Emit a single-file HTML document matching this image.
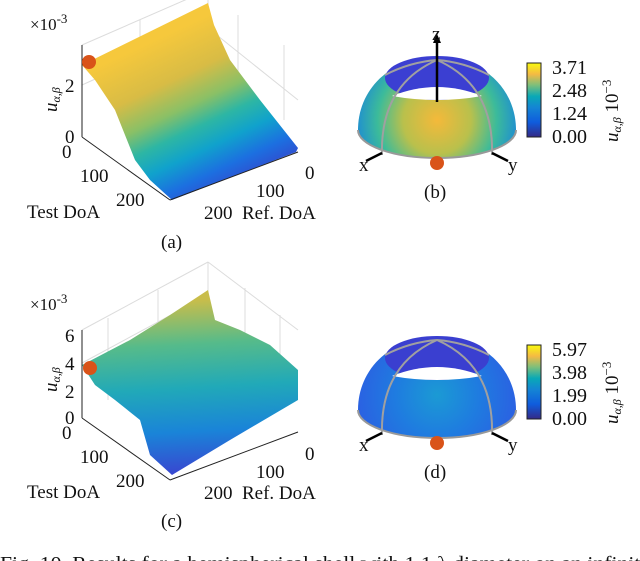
<!DOCTYPE html>
<html><head><meta charset="utf-8"><style>
html,body{margin:0;padding:0;background:#fff;}
svg{display:block;font-family:"Liberation Serif",serif;}
</style></head><body>
<svg width="640" height="561" viewBox="0 0 640 561">
<defs>
<linearGradient id="gA" gradientUnits="userSpaceOnUse" x1="165" y1="35" x2="240" y2="195">
<stop offset="0" stop-color="#f6c83c"/><stop offset="0.25" stop-color="#d8bc45"/><stop offset="0.42" stop-color="#8ac066"/><stop offset="0.55" stop-color="#2db6a4"/><stop offset="0.68" stop-color="#10a2cc"/><stop offset="0.82" stop-color="#1c6fe0"/><stop offset="1" stop-color="#3b3ac6"/></linearGradient>
<linearGradient id="gC" gradientUnits="userSpaceOnUse" x1="190" y1="300" x2="200" y2="475">
<stop offset="0" stop-color="#c9bd4a"/><stop offset="0.25" stop-color="#56bb8a"/><stop offset="0.5" stop-color="#21a9b8"/><stop offset="0.75" stop-color="#1a84d8"/><stop offset="1" stop-color="#3a44d0"/></linearGradient>
<linearGradient id="cb1" x1="0" y1="1" x2="0" y2="0">
<stop offset="0" stop-color="#352a87"/><stop offset="0.2" stop-color="#0f5cdd"/><stop offset="0.4" stop-color="#1485d4"/><stop offset="0.55" stop-color="#09a9b6"/><stop offset="0.7" stop-color="#7cbf7b"/><stop offset="0.85" stop-color="#f5ba43"/><stop offset="1" stop-color="#f9fb0e"/></linearGradient>
<radialGradient id="dB" gradientUnits="userSpaceOnUse" cx="437" cy="120" r="85">
<stop offset="0" stop-color="#f4b93a"/><stop offset="0.4" stop-color="#b9c04c"/><stop offset="0.7" stop-color="#3cbb9a"/><stop offset="1" stop-color="#1a86db"/></radialGradient>
<radialGradient id="dD" gradientUnits="userSpaceOnUse" cx="437" cy="395" r="85">
<stop offset="0" stop-color="#1b9ad4"/><stop offset="0.5" stop-color="#1f7be0"/><stop offset="1" stop-color="#2c5ee2"/></radialGradient>
</defs>

<!-- Plot (a) -->
<g>
<g stroke="#dcdcdc" stroke-width="1" fill="none">
<line x1="82" y1="45" x2="208" y2="-10"/><line x1="82" y1="85" x2="208" y2="28"/>
<line x1="140" y1="20" x2="140" y2="110"/><line x1="208" y1="-10" x2="208" y2="60"/>
<line x1="208" y1="28" x2="298" y2="100"/><line x1="238" y1="15" x2="238" y2="95"/><line x1="284" y1="45" x2="284" y2="120"/>
</g>
<polygon points="82,65 208,3 214,25 230,60 260,100 298,148 296,152 172,200 150,180 135,160 115,110 95,80" fill="url(#gA)"/>
<line x1="82" y1="45" x2="82" y2="137" stroke="#222"/>
<line x1="82" y1="137" x2="170" y2="200" stroke="#222"/>
<line x1="170" y1="200" x2="298" y2="152" stroke="#222"/>
<circle cx="89" cy="62" r="7" fill="#d95319"/>
<g font-size="19" fill="#111">
<text x="30" y="30" font-size="17">×10<tspan dy="-7" font-size="13">-3</tspan></text>
<text x="65" y="92">2</text>
<text x="65" y="143">0</text>
<text x="62" y="158">0</text>
<text x="80" y="182">100</text>
<text x="116" y="206">200</text>
<text x="27" y="218">Test DoA</text>
<text x="305" y="179">0</text>
<text x="256" y="197">100</text>
<text x="204" y="219">200</text>
<text x="242" y="219">Ref. DoA</text>
<text transform="translate(57,112) rotate(-90)" font-style="italic">u<tspan font-size="12" dy="3">α,β</tspan></text>
<text x="161" y="248">(a)</text>
</g></g>

<!-- Plot (c) -->
<g>
<g stroke="#dcdcdc" stroke-width="1" fill="none">
<line x1="82" y1="330" x2="208" y2="262"/><line x1="82" y1="363" x2="208" y2="295"/>
<line x1="108" y1="318" x2="108" y2="400"/><line x1="158" y1="290" x2="158" y2="370"/><line x1="208" y1="262" x2="208" y2="330"/>
<line x1="208" y1="262" x2="298" y2="330"/><line x1="245" y1="288" x2="245" y2="360"/><line x1="280" y1="315" x2="280" y2="390"/>
</g>
<polygon points="82,365 130,340 170,315 208,290 215,320 240,330 270,345 298,370 298,400 230,440 172,475 150,455 140,420 115,400 95,385" fill="url(#gC)"/>
<line x1="82" y1="330" x2="82" y2="418" stroke="#222"/>
<line x1="82" y1="418" x2="170" y2="480" stroke="#222"/>
<line x1="170" y1="480" x2="298" y2="432" stroke="#222"/>
<circle cx="90" cy="368" r="7" fill="#d95319"/>
<g font-size="19" fill="#111">
<text x="30" y="310" font-size="17">×10<tspan dy="-7" font-size="13">-3</tspan></text>
<text x="65" y="342">6</text>
<text x="65" y="370">4</text>
<text x="65" y="398">2</text>
<text x="65" y="424">0</text>
<text x="62" y="439">0</text>
<text x="80" y="463">100</text>
<text x="116" y="487">200</text>
<text x="27" y="498">Test DoA</text>
<text x="305" y="460">0</text>
<text x="256" y="478">100</text>
<text x="204" y="499">200</text>
<text x="242" y="499">Ref. DoA</text>
<text transform="translate(57,392) rotate(-90)" font-style="italic">u<tspan font-size="12" dy="3">α,β</tspan></text>
<text x="161" y="527">(c)</text>
</g></g>

<!-- Hemisphere (b) -->
<g>
<path d="M358,130 C358,88 392,57 437,57 C482,57 516,88 516,130 A79,28 0 0 1 358,130 Z" fill="url(#dB)"/>
<path d="M358,130 A79,28 0 0 0 516,130" fill="none" stroke="#999" stroke-width="2"/>
<ellipse cx="437" cy="78" rx="52" ry="22" fill="#3b3fd2"/>
<path d="M392,96 Q437,78 482,96 Q437,104 392,96 Z" fill="#fff"/>
<g stroke="#a0a0a0" stroke-width="2" fill="none">
<path d="M437,60 Q380,85 382,155"/><path d="M437,60 Q494,85 492,155"/>
<path d="M437,60 Q410,62 385,75"/><path d="M437,60 Q464,62 489,75"/>
</g>
<line x1="437" y1="102" x2="437" y2="40" stroke="#000" stroke-width="2.5"/>
<polygon points="433,43 437,34 441,43" fill="#000"/>
<line x1="382" y1="153" x2="366" y2="161" stroke="#000" stroke-width="2.5"/>
<line x1="492" y1="153" x2="508" y2="161" stroke="#000" stroke-width="2.5"/>
<circle cx="437" cy="163" r="7" fill="#d95319"/>
<g font-size="19" fill="#111">
<text x="432" y="40">z</text>
<text x="359" y="171">x</text>
<text x="508" y="171">y</text>
<text x="424" y="198">(b)</text>
</g>
<rect x="527" y="63" width="14" height="74" fill="url(#cb1)" stroke="#222"/>
<g font-size="20" fill="#111">
<text x="552" y="74">3.71</text><text x="552" y="97">2.48</text><text x="552" y="120">1.24</text><text x="552" y="143">0.00</text>
<text transform="translate(618,142) rotate(-90)" font-size="19"><tspan font-style="italic">u</tspan><tspan font-size="12" dy="3" font-style="italic">α,β</tspan><tspan dy="-3"> 10</tspan><tspan font-size="13" dy="-7">−3</tspan></text>
</g></g>

<!-- Hemisphere (d) -->
<g>
<path d="M358,410 C358,368 392,337 437,337 C482,337 516,368 516,410 A79,28 0 0 1 358,410 Z" fill="url(#dD)"/>
<path d="M358,410 A79,28 0 0 0 516,410" fill="none" stroke="#999" stroke-width="2"/>
<ellipse cx="437" cy="358" rx="52" ry="22" fill="#3a3fd0"/>
<path d="M392,376 Q437,358 482,376 Q437,384 392,376 Z" fill="#fff"/>
<g stroke="#a0a0a0" stroke-width="2" fill="none">
<path d="M437,340 Q380,365 382,435"/><path d="M437,340 Q494,365 492,435"/>
<path d="M437,340 Q410,342 385,355"/><path d="M437,340 Q464,342 489,355"/>
</g>
<line x1="382" y1="433" x2="366" y2="441" stroke="#000" stroke-width="2.5"/>
<line x1="492" y1="433" x2="508" y2="441" stroke="#000" stroke-width="2.5"/>
<circle cx="437" cy="443" r="7" fill="#d95319"/>
<g font-size="19" fill="#111">
<text x="359" y="451">x</text>
<text x="508" y="451">y</text>
<text x="424" y="478">(d)</text>
</g>
<rect x="527" y="345" width="14" height="74" fill="url(#cb1)" stroke="#222"/>
<g font-size="20" fill="#111">
<text x="552" y="356">5.97</text><text x="552" y="379">3.98</text><text x="552" y="402">1.99</text><text x="552" y="425">0.00</text>
<text transform="translate(618,424) rotate(-90)" font-size="19"><tspan font-style="italic">u</tspan><tspan font-size="12" dy="3" font-style="italic">α,β</tspan><tspan dy="-3"> 10</tspan><tspan font-size="13" dy="-7">−3</tspan></text>
</g></g>

<text x="0" y="570" font-size="20" textLength="650" lengthAdjust="spacingAndGlyphs" fill="#111">Fig. 10.  Results for a hemispherical shell with 1.1 λ diameter on an infinite</text>
</svg>
</body></html>
